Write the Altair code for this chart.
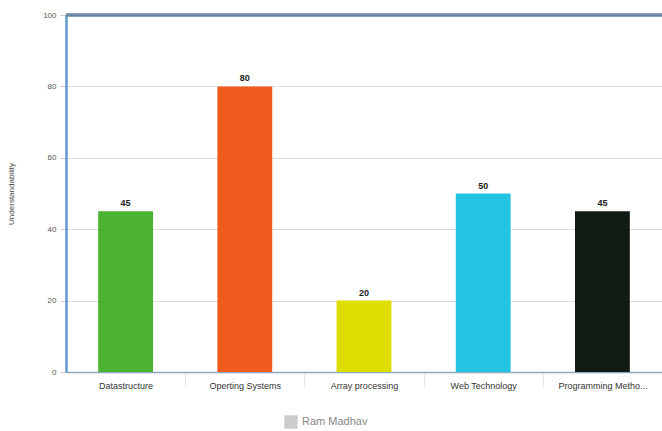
import altair as alt
import pandas as pd

categories = ["Datastructure", "Operting Systems", "Array processing", "Web Technology", "Programming Metho..."]
values = [45, 80, 20, 50, 45]
bar_colors = ["#4db131", "#f05a1d", "#dedd00", "#22c4e2", "#121a14"]
series_name = "Ram Madhav"

df = pd.DataFrame({"category": categories, "value": values, "series": [series_name] * len(categories)})

x_enc = alt.X("category:N", sort=categories,
              scale=alt.Scale(paddingInner=0.54, paddingOuter=0.27),
              axis=alt.Axis(title=None, labelAngle=0, labelFontSize=9, labelColor="#333333",
                            labelFont="Liberation Sans", labelPadding=-5, labelLimit=112,
                            tickOffset=59.6, labelOffset=-59.6, tickColor="#e2e6ea", tickSize=14,
                            domainColor="#8fa7bf", domainWidth=1.5, grid=False))

bars = alt.Chart(df).mark_bar().encode(
    x=x_enc,
    y=alt.Y("value:Q", scale=alt.Scale(domain=[0, 100], nice=False),
            axis=alt.Axis(title="Understandability", titleFontSize=8, titleFontWeight="normal",
                          titleColor="#444444", titleFont="Liberation Sans", titlePadding=27,
                          values=[0, 20, 40, 60, 80, 100], labelFontSize=8, labelColor="#555555",
                          labelFont="Liberation Sans", tickColor="#cccccc", tickSize=6, labelPadding=4,
                          domainColor="#5f9ad0", domainWidth=2.5,
                          gridColor="#dddddd", gridWidth=1)),
    fill=alt.Fill("category:N", sort=categories,
                  scale=alt.Scale(domain=categories, range=bar_colors), legend=None),
)

legend_layer = alt.Chart(df).mark_point(opacity=0, filled=True).encode(
    x=alt.X("category:N", sort=categories),
    y="value:Q",
    color=alt.Color("series:N", scale=alt.Scale(range=["#cccccc"]),
                    legend=alt.Legend(title=None, orient="none", legendX=218, legendY=400,
                                      symbolType="square", symbolSize=180, symbolStrokeWidth=0,
                                      symbolFillColor="#cccccc", symbolOpacity=1,
                                      labelFontSize=11, labelColor="#888888", labelFont="Liberation Sans")),
)

labels = alt.Chart(df).mark_text(dy=-8, fontSize=9, fontWeight="bold", color="#222222",
                                 font="Liberation Sans").encode(
    x=alt.X("category:N", sort=categories),
    y="value:Q",
    text="value:Q",
)

top = alt.Chart(df).mark_rule(color="#6c86a3", strokeWidth=2.5).encode(y=alt.datum(100))

chart = alt.layer(bars, legend_layer, labels, top).properties(
    width=596, height=357,
    autosize=alt.AutoSizeParams(type="none"),
    padding={"left": 66, "top": 15, "right": 0, "bottom": 59},
).configure_view(stroke=None).configure(background="white")

chart.save("out.html", embed_options={"renderer": "svg", "actions": False})
